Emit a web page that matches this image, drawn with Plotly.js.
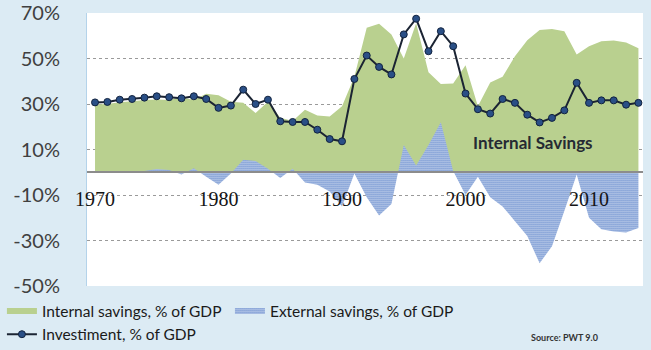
<!DOCTYPE html>
<html>
<head>
<meta charset="utf-8">
<script src="https://cdn.plot.ly/plotly-3.0.1.min.js"></script>
<style>
  html, body { margin: 0; padding: 0; background: #dcebf4; }
  #chart { width: 651px; height: 350px; }
</style>
</head>
<body>
<div id="chart"></div>
<script>
var years = [1970,1971,1972,1973,1974,1975,1976,1977,1978,1979,
             1980,1981,1982,1983,1984,1985,1986,1987,1988,1989,
             1990,1991,1992,1993,1994,1995,1996,1997,1998,1999,
             2000,2001,2002,2003,2004,2005,2006,2007,2008,2009,
             2010,2011,2012,2013,2014];

var internalSavings = [29.8,30.0,30.8,31.2,31.8,32.0,31.8,33.0,31.8,34.5,
                       33.8,31.0,30.5,26.0,31.0,24.0,22.5,27.5,25.0,24.5,
                       29.0,42.0,63.5,65.3,60.5,50.0,65.5,44.0,38.8,39.0,
                       47.0,29.0,39.5,42.0,51.0,58.0,62.5,63.0,62.0,51.8,
                       55.4,57.6,57.9,57.0,54.5];

var externalSavings = [0.3,0.3,0.5,0.5,0.6,1.4,1.0,-1.0,1.8,-2.0,
                       -5.5,-0.5,5.5,5.0,1.5,-2.5,1.5,-4.5,-5.5,-8.5,
                       -15.0,-0.5,-11.0,-19.0,-14.0,12.0,3.0,12.0,22.0,0.5,
                       -10.0,-2.0,-11.0,-15.0,-21.5,-28.0,-40.0,-32.5,-17.0,-1.0,
                       -20.0,-25.0,-26.0,-26.5,-24.5];

var investment = [30.7,30.9,31.9,32.2,32.8,33.4,33.0,32.5,33.4,32.2,
                  28.3,29.3,36.3,30.0,31.9,22.4,22.1,22.1,18.7,14.6,
                  13.6,41.0,51.3,46.3,43.0,60.6,67.5,53.2,62.0,55.4,
                  34.6,27.7,25.8,32.2,30.5,25.3,21.9,23.9,27.2,39.3,
                  30.5,31.6,31.6,29.7,30.5];

var yTicks = [-50,-30,-10,10,30,50,70];
var yTickText = ["-50%","-30%","-10%","10%","30%","50%","70%"];
var xTicks = [1970,1980,1990,2000,2010];

var seriesNames = ["Internal savings, % of GDP", "External savings, % of GDP", "Investiment, % of GDP"];

var traces = [
  {
    x: years, y: internalSavings, name: seriesNames[0],
    type: 'scatter', mode: 'none', fill: 'tozeroy',
    fillcolor: '#b9d08f', hoverinfo: 'skip'
  },
  {
    x: years, y: externalSavings, name: seriesNames[1],
    type: 'scatter', mode: 'none', fill: 'tozeroy',
    fillcolor: '#ffffff',
    fillpattern: {shape: '.', fgcolor: '#3d6cc0', bgcolor: '#ffffff', size: 2, solidity: 0.6},
    hoverinfo: 'skip'
  },
  {
    x: years, y: investment, name: seriesNames[2],
    type: 'scatter', mode: 'lines+markers',
    line: {color: '#1b2433', width: 2},
    marker: {symbol: 'circle', size: 7, color: '#2a4f86', line: {color: '#12233f', width: 1}},
    hoverinfo: 'skip'
  }
];

var layout = {
  width: 651, height: 350,
  margin: {l: 87, r: 8, t: 13, b: 64, autoexpand: false},
  paper_bgcolor: '#dcebf4',
  plot_bgcolor: '#ffffff',
  showlegend: true,
  xaxis: {
    range: [1969.35, 2014.37],
    tickvals: xTicks,
    ticks: '',
    showgrid: false,
    zeroline: false,
    showline: true, linecolor: '#8c8c8c', linewidth: 2,
    anchor: 'free', position: 50/120,
    layer: 'above traces',
    automargin: false,
    tickfont: {family: 'Liberation Serif, DejaVu Serif, serif', size: 20, color: '#151515'},
    ticklabelstandoff: 9
  },
  yaxis: {
    range: [-50, 70],
    tickvals: yTicks,
    ticktext: yTickText,
    showgrid: true, gridcolor: '#9a9a9a', griddash: 'dot', gridwidth: 1,
    zeroline: false,
    showline: true, linecolor: '#b4d3ea', linewidth: 1,
    ticks: '',
    automargin: false,
    ticklabelstandoff: 22,
    tickfont: {family: 'Lato, Open Sans, sans-serif', size: 20, color: '#404040'}
  },
  legend: {
    orientation: 'h',
    x: -0.153, xanchor: 'left',
    y: -0.031, yanchor: 'top',
    bgcolor: 'rgba(0,0,0,0)',
    entrywidth: 183, entrywidthmode: 'pixels',
    tracegroupgap: 0,
    font: {family: 'Lato, Open Sans, sans-serif', size: 15.5, color: '#1a1a1a'}
  },
  annotations: [
    {
      x: 2005.5, y: 13, xref: 'x', yref: 'y',
      text: '<b>Internal Savings</b>', showarrow: false,
      font: {family: 'Lato, Open Sans, sans-serif', size: 17, color: '#252a33'}
    },
    {
      x: 0.9227, y: -0.187, xref: 'paper', yref: 'paper',
      xanchor: 'right', yanchor: 'middle',
      text: '<b>Source: PWT 9.0</b>', showarrow: false,
      font: {family: 'Lato, Open Sans, sans-serif', size: 9, color: '#333333'}
    }
  ]
};

Plotly.newPlot('chart', traces, layout, {staticPlot: true, displayModeBar: false});
</script>
</body>
</html>
